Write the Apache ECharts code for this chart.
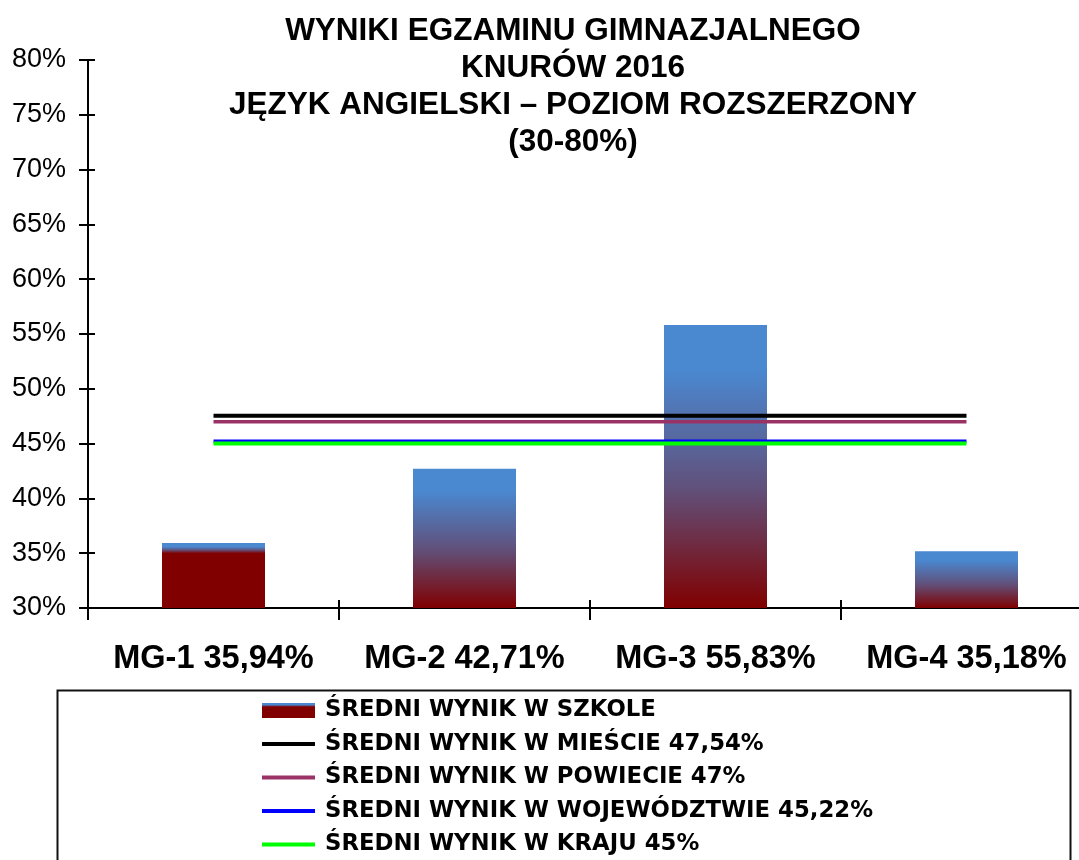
<!DOCTYPE html>
<html>
<head>
<meta charset="utf-8">
<script src="https://cdn.jsdelivr.net/npm/echarts@6/dist/echarts.min.js"></script>
<style>
    html, body { margin: 0; padding: 0; background: #fff; }
    #main { width: 1079px; height: 860px; }
</style>
</head>
<body>
<div id="main"></div>
<script>
// dane z wykresu
let categories = ['MG-1 35,94%', 'MG-2 42,71%', 'MG-3 55,83%', 'MG-4 35,18%'];
let schoolValues = [35.94, 42.71, 55.83, 35.18];
let cityValues = [47.54, 47.54, 47.54, 47.54];
let countyValues = [47, 47, 47, 47];
let provinceValues = [45.22, 45.22, 45.22, 45.22];
let countryValues = [45, 45, 45, 45];
let seriesNames = [
    'ŚREDNI WYNIK W SZKOLE',
    'ŚREDNI WYNIK W MIEŚCIE 47,54%',
    'ŚREDNI WYNIK W POWIECIE 47%',
    'ŚREDNI WYNIK W WOJEWÓDZTWIE 45,22%',
    'ŚREDNI WYNIK W KRAJU 45%'
];
let lineColors = ['#000000', '#993366', '#0000ff', '#00ff00'];

let font = 'Liberation Sans, Arial, sans-serif';

// gradient słupka: niebieski u góry, bordowy u dołu
function barGradient(blueEnd, redStart) {
    return new echarts.graphic.LinearGradient(0, 0, 0, 1, [
        {offset: 0, color: '#4a88d0'},
        {offset: blueEnd, color: '#4a88d0'},
        {offset: (blueEnd + redStart) / 2, color: '#61507a'},
        {offset: redStart, color: '#800000'},
        {offset: 1, color: '#800000'}
    ]);
}

// ikona legendy dla linii - cienki pasek
let lineIcon = 'path://M0,0h53v4h-53z';

let myChart = echarts.init(document.getElementById('main'));

// siatka: 88..1092 w poziomie, 60..608 w pionie
let axisY = {type: 'value', min: 30, max: 80, interval: 5, splitLine: {show: false}};
let tickStyle = {color: '#000', width: 2};

let option = {
    backgroundColor: '#fff',
    animation: false,
    title: {
        text: 'WYNIKI EGZAMINU GIMNAZJALNEGO\nKNURÓW 2016\nJĘZYK ANGIELSKI – POZIOM ROZSZERZONY\n(30-80%)',
        left: 573,
        textAlign: 'center',
        top: 13,
        padding: 0,
        textStyle: {
            fontFamily: font,
            fontSize: 31.5,
            fontWeight: 'bold',
            lineHeight: 37,
            color: '#000'
        }
    },
    grid: {left: 88, top: 60, right: -13, bottom: 252, outerBoundsMode: 'none'},
    legend: {
        orient: 'vertical',
        left: 262,
        top: 698,
        padding: 0,
        itemWidth: 53,
        itemHeight: 15,
        itemGap: 8.5,
        textStyle: {
            fontFamily: 'DejaVu Sans, sans-serif',
            fontSize: 22.8,
            fontWeight: 'bold',
            lineHeight: 25,
            color: '#000',
            padding: [0, 0, 0, 5]
        },
        data: [
            {name: seriesNames[0], icon: 'rect', itemStyle: {color: barGradient(0.12, 0.25)}},
            {name: seriesNames[1], icon: lineIcon, itemStyle: {color: lineColors[0]}},
            {name: seriesNames[2], icon: lineIcon, itemStyle: {color: lineColors[1]}},
            {name: seriesNames[3], icon: lineIcon, itemStyle: {color: lineColors[2]}},
            {name: seriesNames[4], icon: lineIcon, itemStyle: {color: lineColors[3]}}
        ]
    },
    graphic: [{
        type: 'rect',
        left: 55,
        top: 688,
        shape: {width: 1013, height: 200},
        style: {fill: 'none', stroke: '#111', lineWidth: 2},
        silent: true
    }],
    xAxis: [
        {
            type: 'category',
            data: categories,
            axisLine: {lineStyle: {color: '#000', width: 2}},
            axisTick: {show: true, inside: true, length: 8, lineStyle: tickStyle},
            axisLabel: {
                interval: 0,
                margin: 35,
                fontFamily: font,
                fontSize: 32.5,
                fontWeight: 'bold',
                color: '#000'
            }
        },
        {
            // oś "górna" przesunięta na dół - kreski pod osią
            type: 'category',
            data: categories,
            position: 'top',
            offset: -548,
            axisLine: {show: false},
            axisTick: {show: true, inside: true, length: 12, lineStyle: tickStyle},
            axisLabel: {show: false}
        }
    ],
    yAxis: [
        Object.assign({}, axisY, {
            axisLine: {show: true, lineStyle: {color: '#000', width: 2}},
            axisTick: {show: true, inside: true, length: 7, lineStyle: tickStyle},
            axisLabel: {
                margin: 22,
                fontFamily: font,
                fontSize: 27,
                color: '#000',
                formatter: '{value}%'
            }
        }),
        Object.assign({}, axisY, {
            // oś "prawa" przesunięta na lewą krawędź - kreski na zewnątrz
            position: 'right',
            offset: -1004,
            axisLine: {show: false},
            axisTick: {show: true, inside: true, length: 9, lineStyle: tickStyle},
            axisLabel: {show: false}
        })
    ],
    series: [
        {
            name: seriesNames[0],
            type: 'bar',
            barWidth: 103,
            data: schoolValues,
            itemStyle: {
                color: (p) => p.dataIndex === 0 ? barGradient(0.06, 0.16) : barGradient(0.16, 1)
            }
        },
        {
            name: seriesNames[1],
            type: 'line',
            data: cityValues,
            symbol: 'none',
            lineStyle: {color: lineColors[0], width: 4}
        },
        {
            name: seriesNames[2],
            type: 'line',
            data: countyValues,
            symbol: 'none',
            lineStyle: {color: lineColors[1], width: 3.5}
        },
        {
            name: seriesNames[3],
            type: 'line',
            data: provinceValues,
            symbol: 'none',
            lineStyle: {color: lineColors[2], width: 3.5}
        },
        {
            name: seriesNames[4],
            type: 'line',
            data: countryValues,
            symbol: 'none',
            lineStyle: {color: lineColors[3], width: 4}
        }
    ]
};

myChart.setOption(option);
</script>
</body>
</html>
